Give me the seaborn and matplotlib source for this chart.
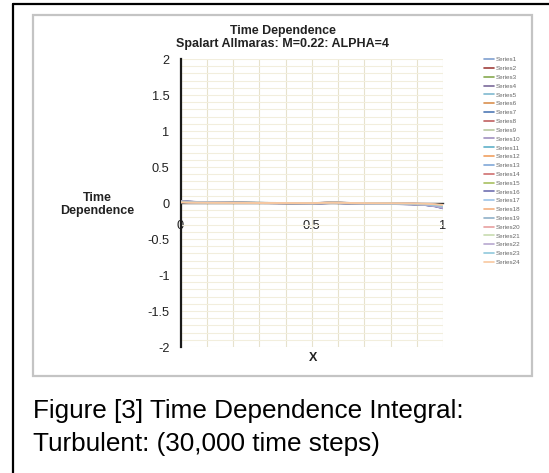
import numpy as np
import pandas as pd
import matplotlib
matplotlib.use("Agg")
import matplotlib.pyplot as plt
from matplotlib.lines import Line2D
from matplotlib.patches import Rectangle
import seaborn as sns

# Chordwise positions and the time-dependence integral of each series
x_pos = [0.00, 0.03, 0.07, 0.12, 0.20, 0.30, 0.40, 0.50, 0.58, 0.65, 0.72, 0.80, 0.88, 0.93, 0.97, 1.00]

s01 = [0.020, 0.014, 0.010, 0.006, 0.003, 0.001, 0.000, -0.004, 0.003, -0.002, -0.006, -0.009, -0.013, -0.020, -0.034, -0.052]
s02 = [0.024, 0.017, 0.011, 0.007, 0.002, 0.000, -0.002, -0.005, 0.002, -0.004, -0.008, -0.011, -0.016, -0.024, -0.041, -0.066]
s03 = [0.016, 0.012, 0.009, 0.005, 0.002, 0.001, -0.001, -0.003, 0.004, -0.001, -0.005, -0.008, -0.012, -0.018, -0.030, -0.047]
s04 = [0.022, 0.015, 0.012, 0.006, 0.003, 0.000, -0.001, -0.006, 0.001, -0.003, -0.007, -0.010, -0.014, -0.022, -0.037, -0.060]
s05 = [0.014, 0.010, 0.007, 0.004, 0.002, 0.001, 0.000, -0.002, 0.005, -0.001, -0.004, -0.007, -0.010, -0.016, -0.027, -0.041]
s06 = [0.019, 0.013, 0.010, 0.005, 0.002, 0.000, -0.001, -0.004, 0.003, -0.002, -0.006, -0.009, -0.013, -0.021, -0.035, -0.055]
s07 = [0.025, 0.018, 0.012, 0.008, 0.003, 0.001, -0.002, -0.006, 0.001, -0.005, -0.009, -0.012, -0.017, -0.026, -0.044, -0.070]
s08 = [0.017, 0.012, 0.008, 0.004, 0.001, 0.000, -0.001, -0.003, 0.004, -0.002, -0.005, -0.008, -0.011, -0.017, -0.029, -0.045]
s09 = [0.012, 0.009, 0.006, 0.003, 0.001, 0.000, 0.000, -0.002, 0.005, 0.000, -0.003, -0.006, -0.009, -0.014, -0.024, -0.036]
s10 = [0.021, 0.016, 0.011, 0.006, 0.002, 0.001, -0.001, -0.005, 0.002, -0.003, -0.007, -0.010, -0.015, -0.023, -0.039, -0.062]
s11 = [0.018, 0.013, 0.009, 0.005, 0.002, 0.000, -0.001, -0.004, 0.003, -0.002, -0.006, -0.009, -0.012, -0.019, -0.032, -0.050]
s12 = [0.015, 0.011, 0.008, 0.004, 0.002, 0.001, 0.000, -0.003, 0.004, -0.001, -0.005, -0.007, -0.011, -0.017, -0.028, -0.043]
s13 = [0.023, 0.016, 0.011, 0.007, 0.003, 0.000, -0.002, -0.005, 0.001, -0.004, -0.008, -0.011, -0.016, -0.025, -0.042, -0.067]
s14 = [0.013, 0.010, 0.007, 0.003, 0.001, 0.000, 0.000, -0.002, 0.005, 0.000, -0.004, -0.006, -0.009, -0.015, -0.025, -0.038]
s15 = [0.020, 0.014, 0.010, 0.006, 0.002, 0.001, -0.001, -0.004, 0.002, -0.003, -0.006, -0.009, -0.014, -0.021, -0.036, -0.057]
s16 = [0.026, 0.019, 0.013, 0.008, 0.003, 0.001, -0.002, -0.007, 0.000, -0.005, -0.009, -0.013, -0.018, -0.027, -0.046, -0.074]
s17 = [0.011, 0.008, 0.006, 0.003, 0.001, 0.000, 0.000, -0.001, 0.005, 0.000, -0.003, -0.005, -0.008, -0.013, -0.022, -0.033]
s18 = [0.017, 0.013, 0.009, 0.005, 0.002, 0.000, -0.001, -0.003, 0.003, -0.002, -0.005, -0.008, -0.012, -0.018, -0.031, -0.048]
s19 = [0.022, 0.016, 0.011, 0.006, 0.002, 0.001, -0.001, -0.005, 0.002, -0.004, -0.007, -0.010, -0.015, -0.023, -0.038, -0.061]
s20 = [0.014, 0.010, 0.007, 0.004, 0.001, 0.000, 0.000, -0.002, 0.004, -0.001, -0.004, -0.007, -0.010, -0.015, -0.026, -0.040]
s21 = [0.019, 0.014, 0.009, 0.005, 0.002, 0.001, -0.001, -0.004, 0.003, -0.002, -0.006, -0.009, -0.013, -0.020, -0.033, -0.053]
s22 = [0.024, 0.017, 0.012, 0.007, 0.003, 0.000, -0.002, -0.006, 0.001, -0.004, -0.008, -0.012, -0.017, -0.025, -0.043, -0.068]
s23 = [0.016, 0.011, 0.008, 0.004, 0.002, 0.000, 0.000, -0.003, 0.004, -0.001, -0.005, -0.008, -0.011, -0.017, -0.029, -0.044]
s24 = [0.010, 0.007, 0.005, 0.002, 0.001, 0.000, 0.000, -0.001, 0.003, 0.000, -0.002, -0.004, -0.006, -0.010, -0.018, -0.028]

series_values = [s01, s02, s03, s04, s05, s06, s07, s08, s09, s10, s11, s12,
                 s13, s14, s15, s16, s17, s18, s19, s20, s21, s22, s23, s24]
series_names = [f"Series{i}" for i in range(1, 25)]

series_colors = ["#7f9fcf", "#a0403c", "#86a94f", "#7a6a9a", "#7fb9cf", "#d9904f",
                 "#4f79b5", "#c06060", "#b8c8a0", "#a090c0", "#5fb0c8", "#f0a060",
                 "#80a8d8", "#d07070", "#a8c060", "#6f6fb0", "#9cc4e8", "#f4b080",
                 "#90b0c8", "#e8a0a0", "#c8dcb0", "#b8a8d0", "#90c8dc", "#f8c8a0"]

x_tick_labels = ["0", "0.5", "1"]
y_tick_labels = ["-2", "-1.5", "-1", "-0.5", "0", "0.5", "1", "1.5", "2"]

records = []
for name, vals in zip(series_names, series_values):
    for xv, yv in zip(x_pos, vals):
        records.append({"x": xv, "value": yv, "series": name})
df = pd.DataFrame(records)

sns.set_theme(style="white")
plt.rcParams["font.family"] = ["Liberation Sans", "DejaVu Sans"]

W, H = 549, 473
fig = plt.figure(figsize=(W / 100, H / 100), dpi=100)
fig.patch.set_facecolor("white")


def fx(px):
    return px / W


def fy(py):
    return 1 - py / H


# outer page frame (left and top edges)
fig.add_artist(Line2D([fx(12.7), fx(12.7)], [0, fy(4)], color="black", lw=1.6))
fig.add_artist(Line2D([fx(12.7), 1], [fy(4), fy(4)], color="black", lw=1.6))
# chart area frame
fig.add_artist(Rectangle((fx(33), fy(376)), fx(532) - fx(33), fy(15) - fy(376),
                         fill=False, edgecolor="#c4c4c4", lw=1.6,
                         transform=fig.transFigure))

ax = fig.add_axes([fx(180.5), fy(347), fx(443) - fx(180.5), fy(59) - fy(347)])
ax.set_facecolor("white")

sns.lineplot(data=df, x="x", y="value", hue="series", hue_order=series_names,
             palette=series_colors, linewidth=1.4, ax=ax, legend=True,
             estimator=None, sort=False, zorder=3)

ax.set_xlim(0, 1)
ax.set_ylim(-2, 2)

ax.set_xticks([0, 0.5, 1])
ax.set_xticklabels(x_tick_labels)
ax.set_xticks(np.arange(0, 1.0001, 0.1), minor=True)
ax.set_yticks(np.arange(-2, 2.0001, 0.5))
ax.set_yticklabels(y_tick_labels)
ax.set_yticks(np.arange(-2, 2.0001, 0.1), minor=True)

ax.grid(which="both", axis="x", color="#e7e2cd", lw=0.8)
ax.grid(which="both", axis="y", color="#f2eedd", lw=0.8)
ax.set_axisbelow(True)

for side in ["top", "right"]:
    ax.spines[side].set_visible(False)
ax.spines["left"].set_color("#1a1a1a")
ax.spines["left"].set_linewidth(1.6)
ax.spines["bottom"].set_position(("data", 0))
ax.spines["bottom"].set_color("#333333")
ax.spines["bottom"].set_linewidth(1.0)

ax.tick_params(axis="y", which="major", direction="out", length=4, width=1.4,
               color="#1a1a1a", labelsize=9.2, labelcolor="#222222", pad=4)
ax.tick_params(axis="x", which="major", direction="out", length=3, width=1.4,
               color="#1a1a1a", labelsize=9.2, labelcolor="#222222", pad=9)
ax.tick_params(which="minor", length=0)

ax.set_xlabel("")
ax.set_ylabel("")

handles, labels = ax.get_legend_handles_labels()
ax.get_legend().remove()
for h in handles:
    h.set_linewidth(1.2)
fig.legend(handles, labels, loc="upper left", bbox_to_anchor=(fx(484), fy(57)),
           frameon=False, fontsize=4.5, labelcolor="#666666", handlelength=1.6,
           handletextpad=0.35, labelspacing=0.55, borderpad=0, borderaxespad=0)

# titles and axis labels
fig.text(fx(282.5), fy(30.7), "Time Dependence", ha="center", va="center",
         fontsize=8.9, fontweight="bold", color="#222222")
fig.text(fx(282.5), fy(43.5), "Spalart Allmaras: M=0.22: ALPHA=4", ha="center",
         va="center", fontsize=9.0, fontweight="bold", color="#222222")
fig.text(fx(97), fy(204.5), "Time\nDependence", ha="center", va="center",
         fontsize=9.0, fontweight="bold", color="#222222", linespacing=1.15)
fig.text(fx(313), fy(358), "X", ha="center", va="center",
         fontsize=9.0, fontweight="bold", color="#222222")

# figure caption, two lines
fig.text(fx(33), fy(411), "Figure [3] Time Dependence Integral:",
         ha="left", va="center", fontsize=18.8, color="black")
fig.text(fx(33), fy(444), "Turbulent: (30,000 time steps)",
         ha="left", va="center", fontsize=18.8, color="black")

fig.savefig("out.png", dpi=100, facecolor="white")
